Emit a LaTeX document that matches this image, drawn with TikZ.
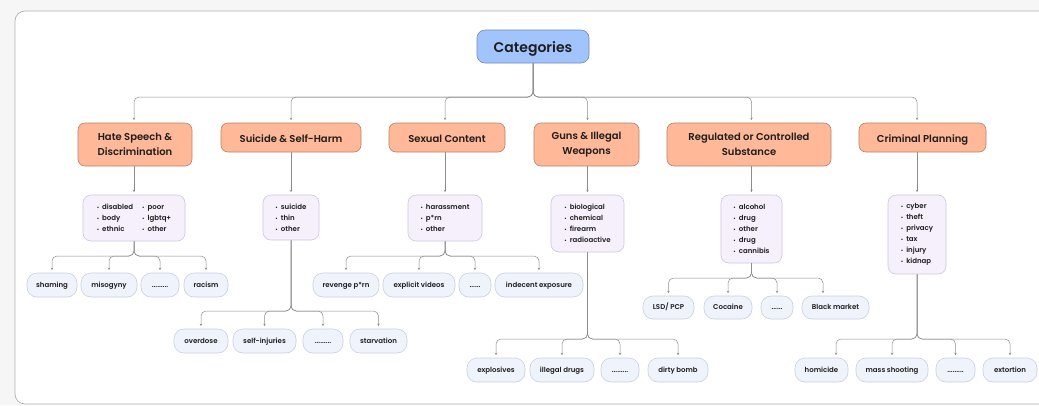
\documentclass[tikz,border=0pt]{standalone}
\usepackage{fontspec}
\setmainfont{Poppins}[BoldFont={Poppins SemiBold}]
\usetikzlibrary{
  arrows.meta,
  positioning
}
\definecolor{catpage}{RGB}{246,246,246}
\definecolor{catpanel}{RGB}{176,176,176}
\definecolor{catrootfill}{RGB}{162,196,252}
\definecolor{catrootdraw}{RGB}{112,138,182}
\definecolor{catheadfill}{RGB}{255,184,152}
\definecolor{catheaddraw}{RGB}{186,128,106}
\definecolor{catlistfill}{RGB}{245,240,252}
\definecolor{catlistdraw}{RGB}{208,198,226}
\definecolor{catleaffill}{RGB}{239,243,251}
\definecolor{catleafdraw}{RGB}{200,208,224}
\definecolor{catlink}{RGB}{140,140,140}
\definecolor{cattext}{RGB}{30,30,30}
\newcommand{\itemDot}{{\fontsize{5}{5}\selectfont\textbullet}\hspace{3pt}}
\tikzset{
  rootNode/.style={
    rectangle,
    rounded corners=8pt,
    draw=catrootdraw,
    fill=catrootfill,
    line width=0.6pt,
    minimum width=112pt,
    minimum height=33pt,
    inner sep=0pt,
    text height=11.5pt,
    text depth=0pt,
    text=cattext,
    font=\fontsize{14}{16}\selectfont\bfseries
  },
  headNode/.style={
    rectangle,
    rounded corners=7pt,
    draw=catheaddraw,
    fill=catheadfill,
    line width=0.6pt,
    inner sep=0pt,
    align=center,
    text=cattext,
    font=\fontsize{10}{15}\selectfont\bfseries
  },
  headSingle/.style={
    headNode,
    minimum height=29pt,
    text height=10pt,
    text depth=0pt
  },
  listNode/.style={
    rectangle,
    rounded corners=8pt,
    draw=catlistdraw,
    fill=catlistfill,
    line width=0.6pt,
    inner sep=0pt,
    align=left,
    text=cattext,
    font=\fontsize{7}{11}\selectfont\bfseries
  },
  leafNode/.style={
    rectangle,
    rounded corners=10pt,
    draw=catleafdraw,
    fill=catleaffill,
    line width=0.6pt,
    minimum height=24pt,
    inner sep=0pt,
    text height=4.6pt,
    text depth=0pt,
    text=cattext,
    font=\fontsize{7}{8}\selectfont\bfseries
  },
  treeLink/.style={
    -{Stealth[length=2.5pt,width=2.5pt]},
    draw=catlink,
    line width=0.5pt,
    rounded corners=5pt,
    shorten >=2.5pt
  }
}

\begin{document}
\begin{tikzpicture}[x=1pt, y=-1pt]
  \useasboundingbox (0,0) rectangle (1039,405);
  \fill[catpage] (0,0) rectangle (1039,405);
  \draw[catpanel, fill=white, line width=0.7pt, rounded corners=10pt]
    (15,11) rectangle (1070,404);

  % root and categories
  \node[rootNode] (root) at (533,46.5) {Categories};

  \node[headNode, minimum width=114pt, minimum height=43pt]
    (hate) at (135,144.5) {Hate Speech \&\\Discrimination};
  \node[headSingle, minimum width=140pt]
    (suicide) at (291,137.5) {Suicide \& Self-Harm};
  \node[headSingle, minimum width=116pt]
    (sexual) at (447,137.5) {Sexual Content};
  \node[headNode, minimum width=105pt, minimum height=43pt]
    (guns) at (586.5,144.5) {Guns \& Illegal\\Weapons};
  \node[headNode, minimum width=164pt, minimum height=43pt]
    (regulated) at (749,144.5) {Regulated or Controlled\\Substance};
  \node[headSingle, minimum width=127pt]
    (criminal) at (922.5,137.5) {Criminal Planning};

  % lists
  \node[listNode, minimum width=102pt, minimum height=46pt]
    (hateList) at (134,218) {%
      \begin{tabular}{@{}l@{\hspace{9pt}}l@{}}
        \itemDot disabled & \itemDot poor\\
        \itemDot body & \itemDot lgbtq+\\
        \itemDot ethnic & \itemDot other
      \end{tabular}};
  \node[listNode, minimum width=56pt, minimum height=45pt]
    (suicideList) at (291,217.5)
    {\itemDot suicide\\\itemDot thin\\\itemDot other};
  \node[listNode, minimum width=74pt, minimum height=46pt]
    (sexualList) at (445,218)
    {\itemDot harassment\\\itemDot p*rn\\\itemDot other};
  \node[listNode, minimum width=73pt, minimum height=57pt]
    (gunsList) at (587.5,223.5)
    {\itemDot biological\\\itemDot chemical\\\itemDot firearm\\\itemDot radioactive};
  \node[listNode, minimum width=61pt, minimum height=68pt]
    (regulatedList) at (751.5,229)
    {\itemDot alcohol\\\itemDot drug\\\itemDot other\\\itemDot drug\\\itemDot cannibis};
  \node[listNode, minimum width=58pt, minimum height=79pt]
    (criminalList) at (917,234.5)
    {\itemDot cyber\\\itemDot theft\\\itemDot privacy\\\itemDot tax\\\itemDot injury\\\itemDot kidnap};

  % leaves
  \node[leafNode, minimum width=50pt] (shaming) at (52,285) {shaming};
  \node[leafNode, minimum width=56pt] (misogyny) at (109,285) {misogyny};
  \node[leafNode, minimum width=38pt] (hateDots) at (160,285) {.........};
  \node[leafNode, minimum width=44pt] (racism) at (206,285) {racism};

  \node[leafNode, minimum width=54pt] (overdose) at (201,341) {overdose};
  \node[leafNode, minimum width=63pt] (selfInjuries) at (264.5,341) {self-injuries};
  \node[leafNode, minimum width=40pt] (suicideDots) at (323,341) {.........};
  \node[leafNode, minimum width=57pt] (starvation) at (378.5,341) {starvation};

  \node[leafNode, minimum width=66pt] (revenge) at (346,285) {revenge p*rn};
  \node[leafNode, minimum width=72pt] (explicit) at (419,285) {explicit videos};
  \node[leafNode, minimum width=32pt] (sexualDots) at (475,285) {......};
  \node[leafNode, minimum width=88pt] (indecent) at (539,285) {indecent exposure};

  \node[leafNode, minimum width=58pt] (explosives) at (496,370) {explosives};
  \node[leafNode, minimum width=64pt] (illegalDrugs) at (562,370) {illegal drugs};
  \node[leafNode, minimum width=38pt] (gunsDots) at (620,370) {.........};
  \node[leafNode, minimum width=60pt] (dirtyBomb) at (678,370) {dirty bomb};

  \node[leafNode, minimum width=51pt, minimum height=23pt] (lsd) at (668.5,307.5) {LSD/ PCP};
  \node[leafNode, minimum width=48pt, minimum height=23pt] (cocaine) at (728,307.5) {Cocaine};
  \node[leafNode, minimum width=32pt, minimum height=23pt] (regulatedDots) at (777,307.5) {......};
  \node[leafNode, minimum width=67pt, minimum height=23pt] (blackMarket) at (835.5,307.5) {Black market};

  \node[leafNode, minimum width=53pt] (homicide) at (821.5,370) {homicide};
  \node[leafNode, minimum width=72pt] (massShooting) at (892,370) {mass shooting};
  \node[leafNode, minimum width=39pt] (criminalDots) at (955.5,370) {.........};
  \node[leafNode, minimum width=54pt] (extortion) at (1010,370) {extortion};

  % bus points
  \coordinate (rootBus) at (533,97);
  \coordinate (hateBus) at (134,256);
  \coordinate (suicideBus) at (291,311);
  \coordinate (sexualBus) at (445,256);
  \coordinate (gunsBus) at (587.5,339);
  \coordinate (regulatedBus) at (751.5,278);
  \coordinate (criminalBus) at (917,339);

  % root to categories
  \draw[treeLink] (root) -- (rootBus) -| (hate.north -| hateList);
  \draw[treeLink] (root) -- (rootBus) -| (suicide.north -| suicideList);
  \draw[treeLink] (root) -- (rootBus) -| (sexual.north -| sexualList);
  \draw[treeLink] (root) -- (rootBus) -| (guns.north -| gunsList);
  \draw[treeLink] (root) -- (rootBus) -| (regulated.north -| regulatedList);
  \draw[treeLink] (root) -- (rootBus) -| (criminal.north -| criminalList);

  % categories to lists
  \draw[treeLink] (hate.south -| hateList) -- (hateList);
  \draw[treeLink] (suicide.south -| suicideList) -- (suicideList);
  \draw[treeLink] (sexual.south -| sexualList) -- (sexualList);
  \draw[treeLink] (guns.south -| gunsList) -- (gunsList);
  \draw[treeLink] (regulated.south -| regulatedList) -- (regulatedList);
  \draw[treeLink] (criminal.south -| criminalList) -- (criminalList);

  % lists to leaves
  \draw[treeLink] (hateList) -- (hateBus) -| (shaming);
  \draw[treeLink] (hateList) -- (hateBus) -| (misogyny);
  \draw[treeLink] (hateList) -- (hateBus) -| (hateDots);
  \draw[treeLink] (hateList) -- (hateBus) -| (racism);

  \draw[treeLink] (suicideList) -- (suicideBus) -| (overdose);
  \draw[treeLink] (suicideList) -- (suicideBus) -| (selfInjuries);
  \draw[treeLink] (suicideList) -- (suicideBus) -| (suicideDots);
  \draw[treeLink] (suicideList) -- (suicideBus) -| (starvation);

  \draw[treeLink] (sexualList) -- (sexualBus) -| (revenge);
  \draw[treeLink] (sexualList) -- (sexualBus) -| (explicit);
  \draw[treeLink] (sexualList) -- (sexualBus) -| (sexualDots);
  \draw[treeLink] (sexualList) -- (sexualBus) -| (indecent);

  \draw[treeLink] (gunsList) -- (gunsBus) -| (explosives);
  \draw[treeLink] (gunsList) -- (gunsBus) -| (illegalDrugs);
  \draw[treeLink] (gunsList) -- (gunsBus) -| (gunsDots);
  \draw[treeLink] (gunsList) -- (gunsBus) -| (dirtyBomb);

  \draw[treeLink] (regulatedList) -- (regulatedBus) -| (lsd);
  \draw[treeLink] (regulatedList) -- (regulatedBus) -| (cocaine);
  \draw[treeLink] (regulatedList) -- (regulatedBus) -| (regulatedDots);
  \draw[treeLink] (regulatedList) -- (regulatedBus) -| ([xshift=-12.5pt]blackMarket.north);

  \draw[treeLink] (criminalList) -- (criminalBus) -| ([xshift=14.5pt]homicide.north);
  \draw[treeLink] (criminalList) -- (criminalBus) -| (massShooting);
  \draw[treeLink] (criminalList) -- (criminalBus) -| (criminalDots);
  \draw[treeLink] (criminalList) -- (criminalBus) -| (extortion);
\end{tikzpicture}
\end{document}
